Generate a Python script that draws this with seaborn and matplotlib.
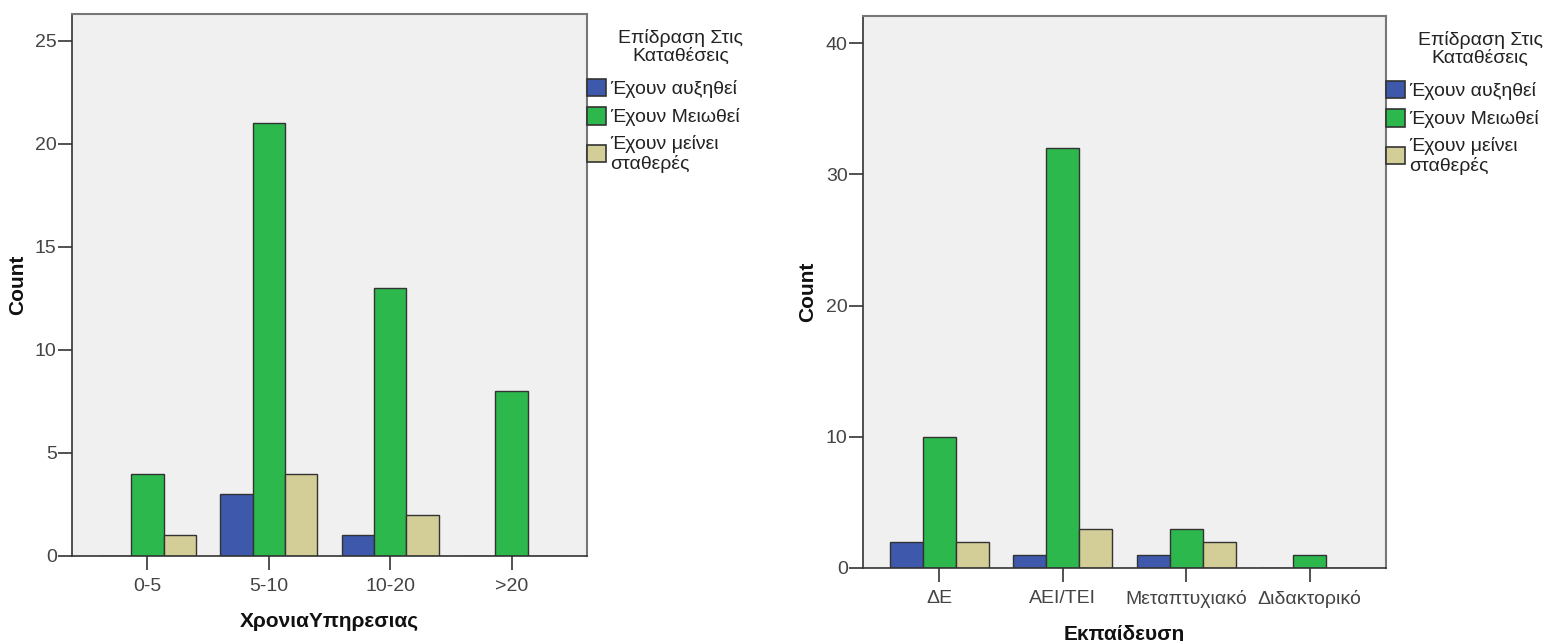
import matplotlib
matplotlib.use("Agg")
import matplotlib.pyplot as plt
import seaborn as sns
import pandas as pd

sns.set_style("white")
plt.rcParams['font.family'] = ['Liberation Sans', 'DejaVu Sans']

groups = ["Έχουν αυξηθεί", "Έχουν Μειωθεί", "Έχουν μείνει\nσταθερές"]
colors = ["#3e58ac", "#2db84d", "#d3ce97"]

years_cats = ["0-5", "5-10", "10-20", ">20"]
years_up = [0, 3, 1, 0]
years_down = [4, 21, 13, 8]
years_same = [1, 4, 2, 0]

edu_cats = ["ΔΕ", "ΑΕΙ/ΤΕΙ", "Μεταπτυχιακό", "Διδακτορικό"]
edu_up = [2, 1, 1, 0]
edu_down = [10, 32, 3, 1]
edu_same = [2, 3, 2, 0]

legend_title = "Επίδραση Στις\nΚαταθέσεις"


def make_df(cats, up, down, same):
    rows = []
    for g, vals in zip(groups, [up, down, same]):
        for c, v in zip(cats, vals):
            rows.append({"cat": c, "group": g, "count": v})
    return pd.DataFrame(rows)


W, H = 1551, 641
fig = plt.figure(figsize=(W / 100, H / 100), dpi=100)
ax1 = fig.add_axes([72 / W, (H - 556) / H, 515 / W, 542 / H])
ax2 = fig.add_axes([863 / W, (H - 568) / H, 523 / W, 552 / H])

specs = [
    (ax1, make_df(years_cats, years_up, years_down, years_same), years_cats,
     "ΧρονιαΥπηρεσιας", 26.3, [0, 5, 10, 15, 20, 25]),
    (ax2, make_df(edu_cats, edu_up, edu_down, edu_same), edu_cats,
     "Εκπαίδευση", 42.06, [0, 10, 20, 30, 40]),
]

for ax, df, cats, xlabel, ymax, yt in specs:
    sns.barplot(data=df, x="cat", y="count", hue="group", order=cats,
                hue_order=groups, palette=colors, width=0.8,
                edgecolor="#333333", linewidth=1.0, saturation=1,
                errorbar=None, ax=ax)
    ax.set_facecolor("#f0f0f0")
    ax.set_ylim(0, ymax)
    ax.set_xlim(-0.62, 3.62)
    ax.set_yticks(yt)
    ax.set_xlabel(xlabel, fontsize=15, fontweight="bold", color="#111111", labelpad=12)
    ax.set_ylabel("Count", fontsize=15, fontweight="bold", color="#111111", labelpad=6)
    ax.tick_params(axis="both", direction="out", length=10, width=1.2,
                   colors="#333333", labelsize=14, labelcolor="#444444",
                   bottom=True, left=True)
    ax.tick_params(axis="x", pad=6)
    ax.tick_params(axis="y", pad=1)
    for side, s in ax.spines.items():
        s.set_visible(True)
        if side in ("top", "right"):
            s.set_color("#777777")
            s.set_linewidth(1.5)
        else:
            s.set_color("#333333")
            s.set_linewidth(1.2)
    handles, labels = ax.get_legend_handles_labels()
    if ax.get_legend() is not None:
        ax.get_legend().remove()
    axh = ax.get_position().height * H
    axw = ax.get_position().width * W
    leg = ax.legend(handles, labels, loc="upper left",
                    bbox_to_anchor=(1.0, 1.0 - 65 / axh), frameon=False, fontsize=14,
                    handlelength=1.0, handleheight=1.0,
                    handletextpad=0.2, borderaxespad=0.0, labelspacing=0.45,
                    borderpad=0.0)
    for t in leg.get_texts():
        t.set_color("#222222")
        t.set_linespacing(1.1)
    for h in leg.legend_handles:
        h.set_edgecolor("#333333")
        h.set_linewidth(1.2)
    ax.text(1.0 + 94 / axw, 1.0 - 33 / axh,
            legend_title, transform=ax.transAxes, ha="center", va="center",
            fontsize=14, color="#222222", linespacing=1.1)

fig.savefig("out.png", dpi=100)
